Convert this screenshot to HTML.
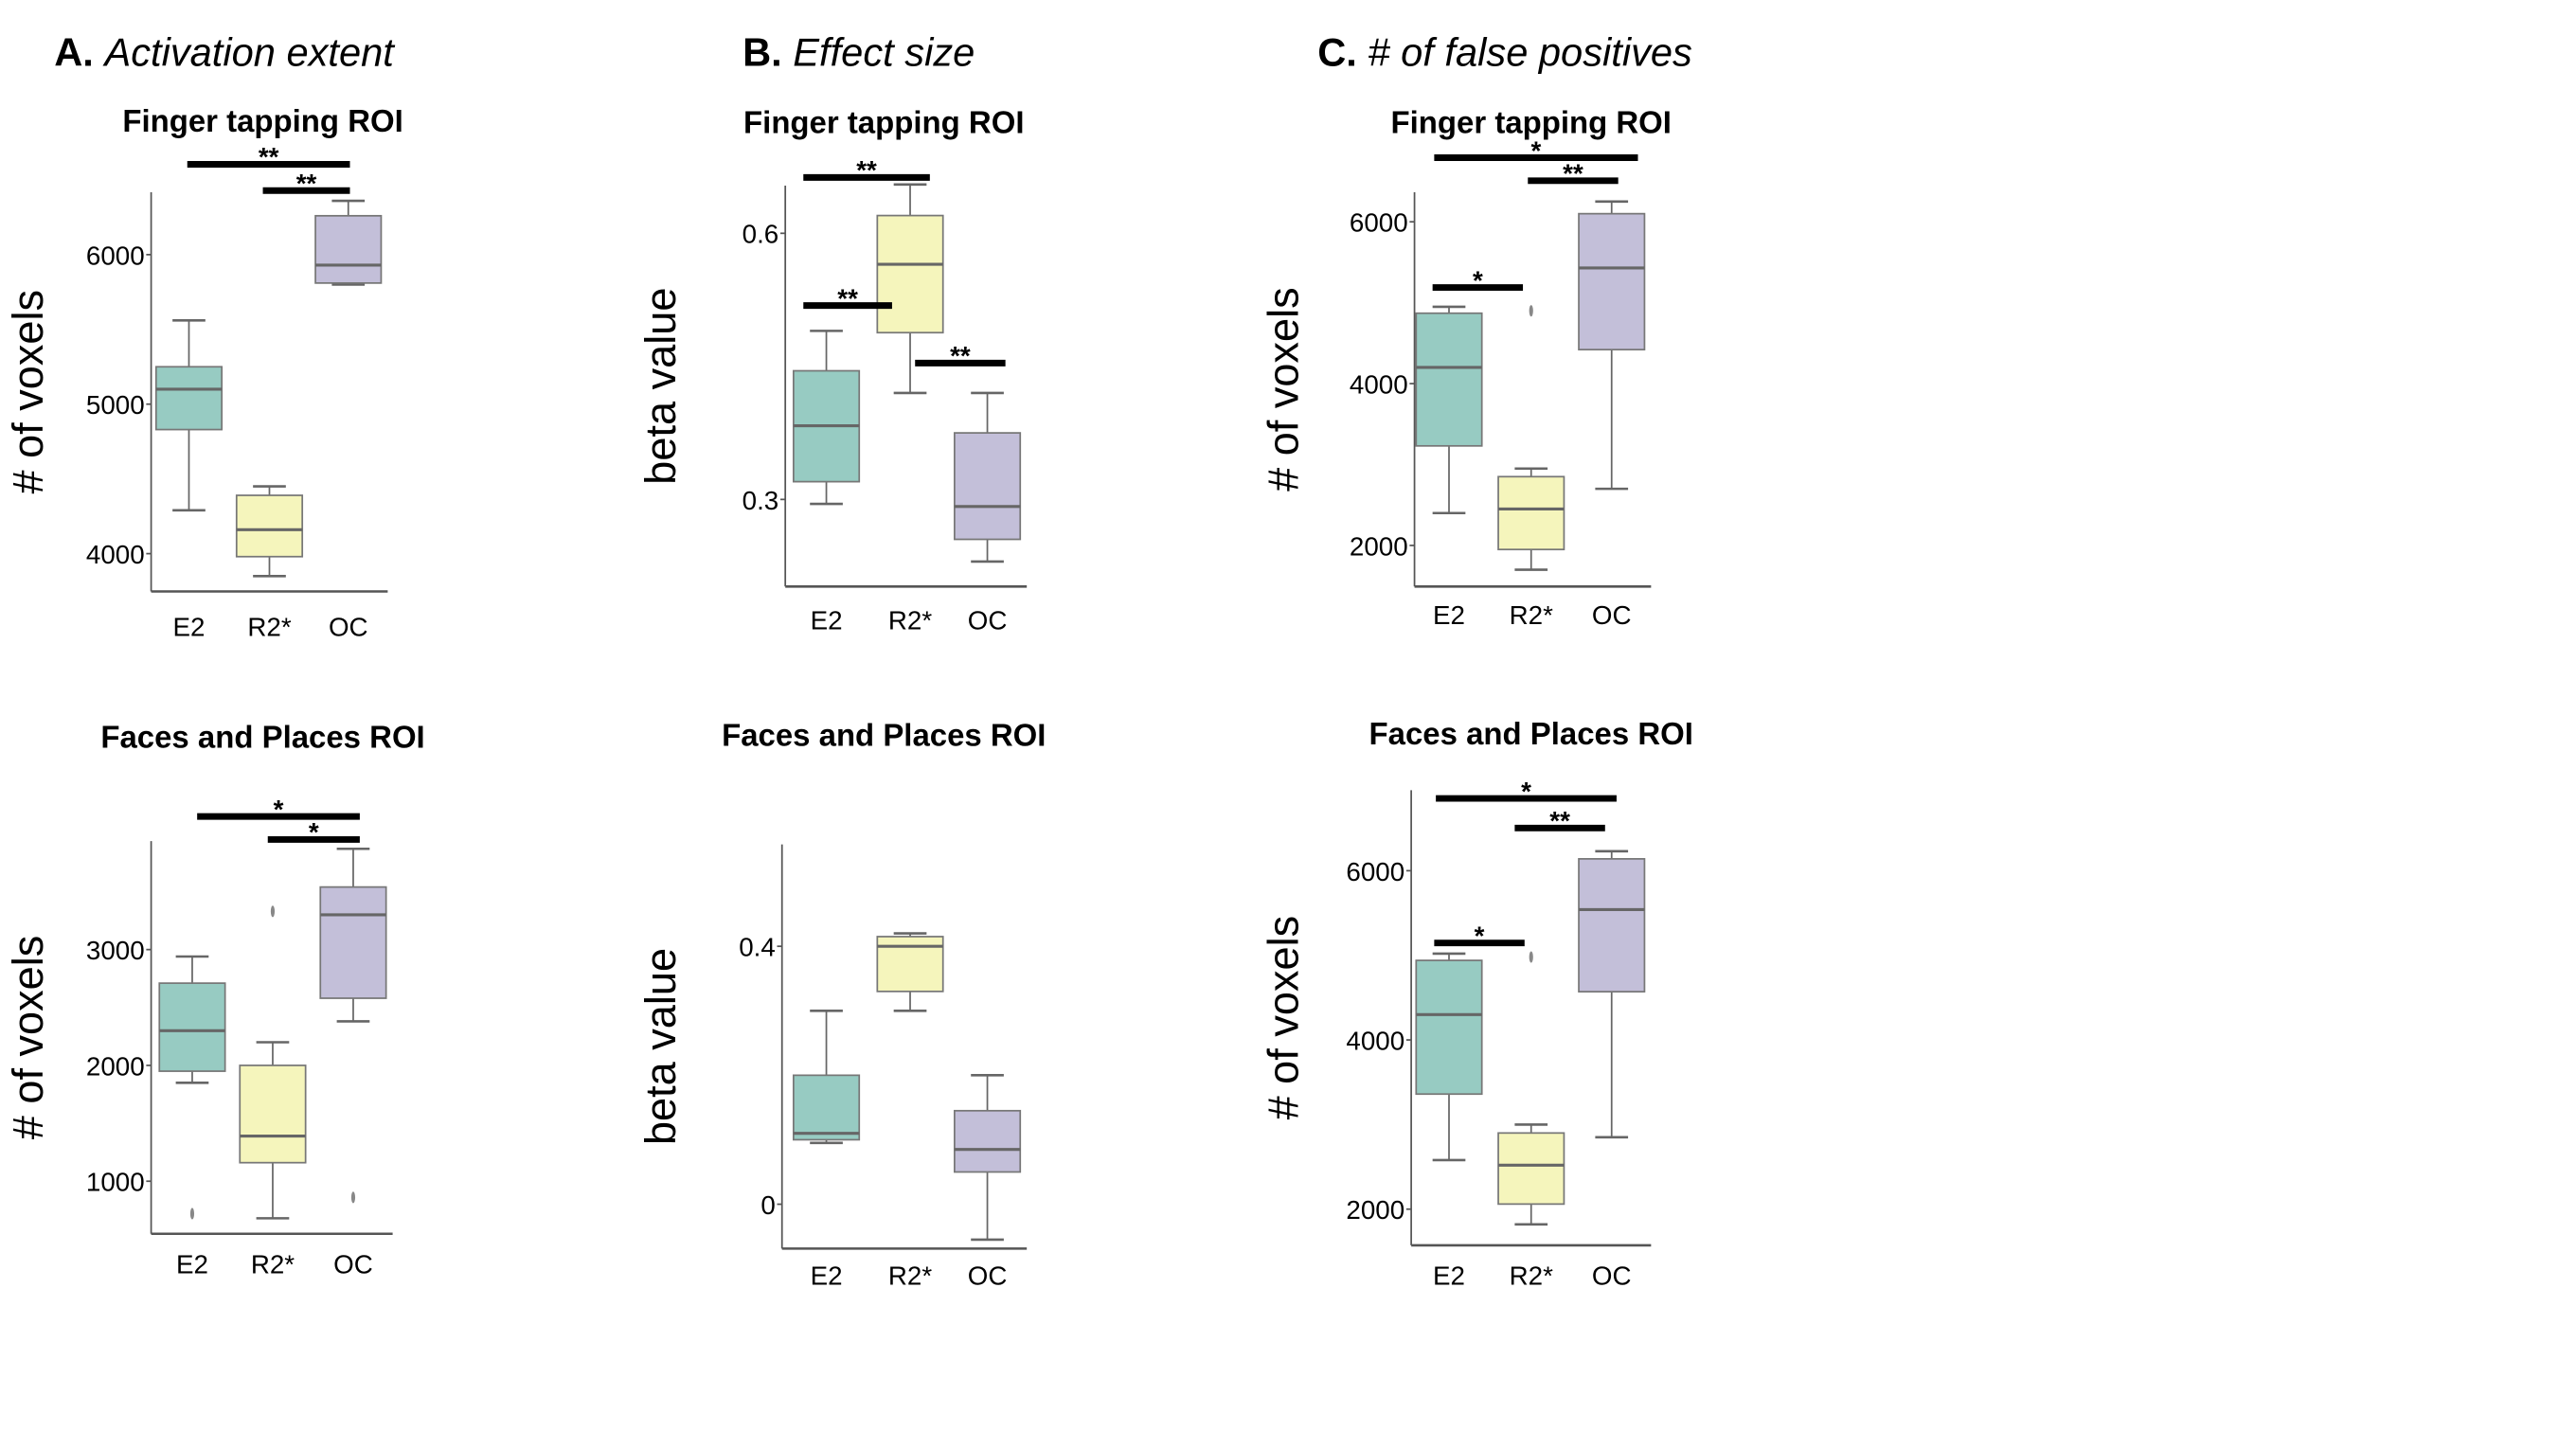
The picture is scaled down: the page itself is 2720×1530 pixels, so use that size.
<!DOCTYPE html>
<html><head><meta charset="utf-8"><style>html,body{margin:0;padding:0;background:#fff}svg{display:block}</style></head>
<body>
<svg id="fig" xmlns="http://www.w3.org/2000/svg" width="2720" height="1530" viewBox="0 0 1568 882" preserveAspectRatio="none" font-family="'Liberation Sans', sans-serif">
<text x="33" y="40" font-size="24"><tspan font-weight="bold">A.</tspan> <tspan font-style="italic">Activation extent</tspan></text>
<text x="452" y="40" font-size="24"><tspan font-weight="bold">B.</tspan> <tspan font-style="italic">Effect size</tspan></text>
<text x="802" y="40" font-size="24"><tspan font-weight="bold">C.</tspan> <tspan font-style="italic"># of false positives</tspan></text>
</svg>
<script>
const categories = ["E2","R2*","OC"];
const colors = ["#97cbc2","#f5f5bc","#c3bfd9"];
// each stat: [whiskerLow, q1, median, q3, whiskerHigh]
const aTopStats = [[4290,4830,5100,5250,5560],[3850,3980,4160,4390,4450],[5800,5810,5930,6260,6360]];
const aTopOut = [[],[],[]];
const aTopTicks = [4000,5000,6000];
const aBotStats = [[1850,1950,2300,2710,2940],[680,1160,1390,2000,2200],[2380,2580,3300,3540,3870]];
const aBotOut = [[720],[3330],[860]];
const aBotTicks = [1000,2000,3000];
const bTopStats = [[0.295,0.32,0.383,0.445,0.49],[0.42,0.488,0.565,0.62,0.655],[0.23,0.255,0.292,0.375,0.42]];
const bTopOut = [[],[],[]];
const bTopTicks = [0.3,0.6];
const bBotStats = [[0.095,0.1,0.11,0.2,0.3],[0.3,0.33,0.4,0.415,0.42],[-0.055,0.05,0.085,0.145,0.2]];
const bBotOut = [[],[],[]];
const bBotTicks = [0,0.4];
const cTopStats = [[2400,3230,4200,4870,4950],[1700,1950,2450,2850,2950],[2700,4420,5430,6100,6250]];
const cTopOut = [[],[4900],[]];
const cTopTicks = [2000,4000,6000];
const cBotStats = [[2580,3360,4300,4940,5020],[1820,2060,2520,2900,3000],[2850,4570,5540,6140,6230]];
const cBotOut = [[],[4980],[]];
const cBotTicks = [2000,4000,6000];

const NS="http://www.w3.org/2000/svg";
const svg=document.getElementById('fig');
function mk(tag,attrs,parent){const e=document.createElementNS(NS,tag);for(const k in attrs)e.setAttribute(k,attrs[k]);(parent||svg).appendChild(e);return e;}

const panels=[
 {id:'a-top',stats:aTopStats,out:aTopOut,ticks:aTopTicks,ax:92,top:117,bot:360,v:[4000,337,6000,155],cx:[115,164,212],title:'Finger tapping ROI',tx:160,ty:80,yl:'# of voxels',ylx:26,lblY:387,
  sig:[[100,114,213,'**'],[116,160,213,'**']]},
 {id:'a-bot',stats:aBotStats,out:aBotOut,ticks:aBotTicks,ax:92,top:512,bot:751,v:[1000,719,3000,578],cx:[117,166,215],title:'Faces and Places ROI',tx:160,ty:455,yl:'# of voxels',ylx:26,lblY:775,
  sig:[[497,120,219,'*'],[511,163,219,'*']]},
 {id:'b-top',stats:bTopStats,out:bTopOut,ticks:bTopTicks,ax:478,top:113,bot:357,v:[0.3,304,0.6,142],cx:[503,554,601],title:'Finger tapping ROI',tx:538,ty:81,yl:'beta value',ylx:411,lblY:383,
  sig:[[108,489,566,'**'],[186,489,543,'**'],[221,557,612,'**']]},
 {id:'b-bot',stats:bBotStats,out:bBotOut,ticks:bBotTicks,ax:476,top:514,bot:760,v:[0,733,0.4,576],cx:[503,554,601],title:'Faces and Places ROI',tx:538,ty:454,yl:'beta value',ylx:411,lblY:782,sig:[]},
 {id:'c-top',stats:cTopStats,out:cTopOut,ticks:cTopTicks,ax:861,top:117,bot:357,v:[2000,332,6000,135],cx:[882,932,981],title:'Finger tapping ROI',tx:932,ty:81,yl:'# of voxels',ylx:790,lblY:380,
  sig:[[96,873,997,'*'],[110,930,985,'**'],[175,872,927,'*']]},
 {id:'c-bot',stats:cBotStats,out:cBotOut,ticks:cBotTicks,ax:859,top:481,bot:758,v:[2000,736,6000,530],cx:[882,932,981],title:'Faces and Places ROI',tx:932,ty:453,yl:'# of voxels',ylx:790,lblY:782,
  sig:[[486,874,984,'*'],[504,922,977,'**'],[574,873,928,'*']]}
];

panels.forEach(p=>{
  const g=mk('g',{});
  
  
  const y=v=>p.v[1]+(v-p.v[0])*(p.v[3]-p.v[1])/(p.v[2]-p.v[0]);
  const t=mk('text',{x:p.tx,y:p.ty,'font-size':19,'font-weight':'bold','text-anchor':'middle'},g);t.textContent=p.title;
  
  
  const yl=mk('text',{x:0,y:0,'font-size':26,'text-anchor':'middle',transform:`translate(${p.ylx},${(p.top+p.bot)/2}) rotate(-90)`},g);yl.textContent=p.yl;
  
  
  const axL=mk('line',{x1:p.ax,y1:p.top,x2:p.ax,y2:p.bot,stroke:'#555','stroke-width':1},g);
  
  
  const axB=mk('line',{x1:p.ax,y1:p.bot,x2:p.cx[2]+24,y2:p.bot,stroke:'#555','stroke-width':1.5},g);
  
  
  p.ticks.forEach(tv=>{
    const tl=mk('text',{x:p.ax-4,y:y(tv)+6,'font-size':16,'text-anchor':'end'},g);tl.textContent=String(tv);
    
    
    mk('line',{x1:p.ax-3,y1:y(tv),x2:p.ax,y2:y(tv),stroke:'#555'},g);
  });
  categories.forEach((c,i)=>{
    const cx=p.cx[i],s=p.stats[i],w=20;
    const bg=mk('g',{},g);
    
    
    mk('line',{x1:cx,y1:y(s[0]),x2:cx,y2:y(s[1]),stroke:'#666'},bg);
    mk('line',{x1:cx,y1:y(s[3]),x2:cx,y2:y(s[4]),stroke:'#666'},bg);
    mk('line',{x1:cx-10,y1:y(s[0]),x2:cx+10,y2:y(s[0]),stroke:'#666','stroke-width':1.5},bg);
    mk('line',{x1:cx-10,y1:y(s[4]),x2:cx+10,y2:y(s[4]),stroke:'#666','stroke-width':1.5},bg);
    mk('rect',{x:cx-w,y:y(s[3]),width:2*w,height:y(s[1])-y(s[3]),fill:colors[i],stroke:'#777','stroke-width':1},bg);
    mk('line',{x1:cx-w,y1:y(s[2]),x2:cx+w,y2:y(s[2]),stroke:'#666','stroke-width':1.8},bg);
    p.out[i].forEach(o=>{mk('ellipse',{cx:cx,cy:y(o),rx:1.2,ry:3.5,fill:'#888'},bg);});
    const xl=mk('text',{x:cx,y:p.lblY,'font-size':16,'text-anchor':'middle'},g);xl.textContent=c;
    
    
  });
  p.sig.forEach(s=>{
    const sb=mk('line',{x1:s[1],y1:s[0],x2:s[2],y2:s[0],stroke:'#000','stroke-width':4},g);
    
    
    const st=mk('text',{x:(s[1]+s[2])/2,y:s[0]+1,'font-size':16,'font-weight':'bold','text-anchor':'middle'},g);st.textContent=s[3];
    
    
  });
});
</script>
</body></html>
